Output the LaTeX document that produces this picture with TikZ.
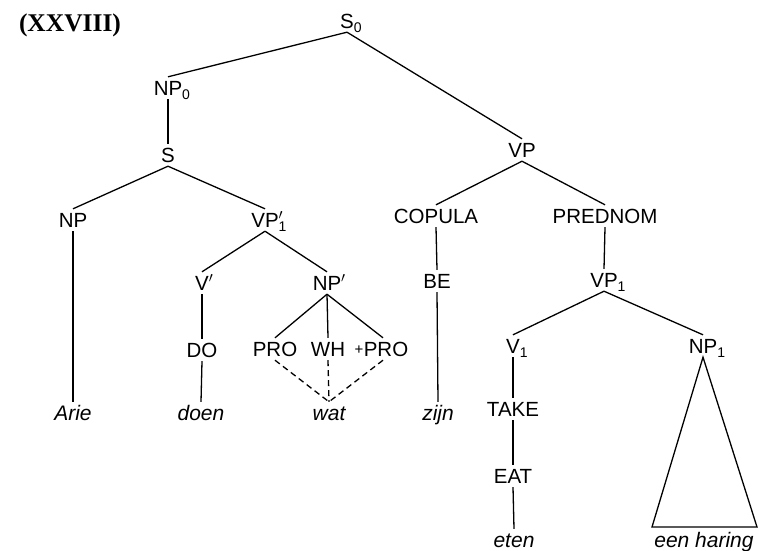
\documentclass[tikz,border=0pt]{standalone}
\usepackage{fontspec}
\setmainfont{Liberation Serif}
\newfontfamily\labfont{Liberation Sans}
\newcommand\subs[1]{\rlap{\raisebox{-4pt}{\fontsize{14}{14}\selectfont #1}}}
\newcommand\prm{\rlap{$'$}}
\begin{document}
\begin{tikzpicture}[x=1pt,y=-1pt,
  lbl/.style={font=\labfont\fontsize{20.5}{20}\selectfont, text height=14pt, text depth=0pt, inner xsep=1pt, inner ysep=4pt, anchor=base},
  wrd/.style={lbl, font=\labfont\itshape\fontsize{21}{20}\selectfont},
  edge/.style={line width=1.3pt},
  dsh/.style={line width=1.3pt, dash pattern=on 6pt off 4pt},
  ttl/.style={font=\bfseries\fontsize{25.5}{25}\selectfont, inner sep=0pt, anchor=base}]
\useasboundingbox (0,0) rectangle (759,550);
% title
\node[ttl] (title) at (70,31) {(XXVIII)};
% nodes
\node[lbl] (S0) at (347,28) {S\subs{0}};
\node[lbl] (NP0) at (168,95) {NP\subs{0}};
\node[lbl] (S) at (168,162) {S};
\node[lbl] (NP) at (73,227) {NP};
\node[lbl] (VP1p) at (265,227) {VP\prm\subs{1}};
\node[lbl] (Vp) at (202,290) {V\prm};
\node[lbl] (NPp) at (327,290) {NP\prm};
\node[lbl] (DO) at (202,357) {DO};
\node[lbl] (PRO) at (275,356) {PRO};
\node[lbl] (WH) at (328,356) {WH};
\node[lbl, font=\labfont\fontsize{15}{15}\selectfont] (plus) at (359,354) {+};
\node[lbl] (PROb) at (386,356) {PRO};
\node[wrd] (Arie) at (73,420) {Arie};
\node[wrd] (doen) at (201,420) {doen};
\node[wrd] (wat) at (329,420) {wat};
\node[wrd] (zijn) at (438,420) {zijn};
\node[lbl] (VP) at (522,157) {VP};
\node[lbl] (COP) at (436,223) {COPULA};
\node[lbl] (PRED) at (605,223) {PREDNOM};
\node[lbl] (BE) at (437,288) {BE};
\node[lbl] (VP1) at (604,287) {VP\subs{1}};
\node[lbl] (V1) at (513,353) {V\subs{1}};
\node[lbl] (NP1) at (703,353) {NP\subs{1}};
\node[lbl] (TAKE) at (513,416) {TAKE};
\node[lbl] (EAT) at (513,483) {EAT};
\node[wrd] (eten) at (514,547) {eten};
\node[wrd] (haring) at (704,547) {een haring};
\coordinate (tl) at (652,527);
\coordinate (tr) at (757,527);
% edges
\draw[edge] (S0.south) -- (NP0.north);
\draw[edge] (S0.south) -- (VP.north);
\draw[edge] (NP0.south) -- (S.north);
\draw[edge] (S.south) -- (NP.north);
\draw[edge] (S.south) -- (VP1p.north);
\draw[edge] (NP.south) -- (Arie.north);
\draw[edge] (VP1p.south) -- (Vp.north);
\draw[edge] (VP1p.south) -- (NPp.north);
\draw[edge] (Vp.south) -- (DO.north);
\draw[edge] (DO.south) -- (doen.north);
\draw[edge] (NPp.south) -- (PRO.north);
\draw[edge] (NPp.south) -- (WH.north);
\draw[edge] (NPp.south) -- ([xshift=-3pt]PROb.north);
\draw[dsh] (PRO.south) -- (wat.north);
\draw[dsh] (WH.south) -- (wat.north);
\draw[dsh] ([xshift=-3pt]PROb.south) -- (wat.north);
\draw[edge] (VP.south) -- (COP.north);
\draw[edge] (VP.south) -- (PRED.north);
\draw[edge] (COP.south) -- (BE.north);
\draw[edge] (BE.south) -- (zijn.north);
\draw[edge] (PRED.south) -- (VP1.north);
\draw[edge] (VP1.south) -- (V1.north);
\draw[edge] (VP1.south) -- (NP1.north);
\draw[edge] (V1.south) -- (TAKE.north);
\draw[edge] (TAKE.south) -- (EAT.north);
\draw[edge] (EAT.south) -- (eten.north);
\draw[edge] (NP1.south) -- (tl) -- (tr) -- cycle;
\end{tikzpicture}
\end{document}
